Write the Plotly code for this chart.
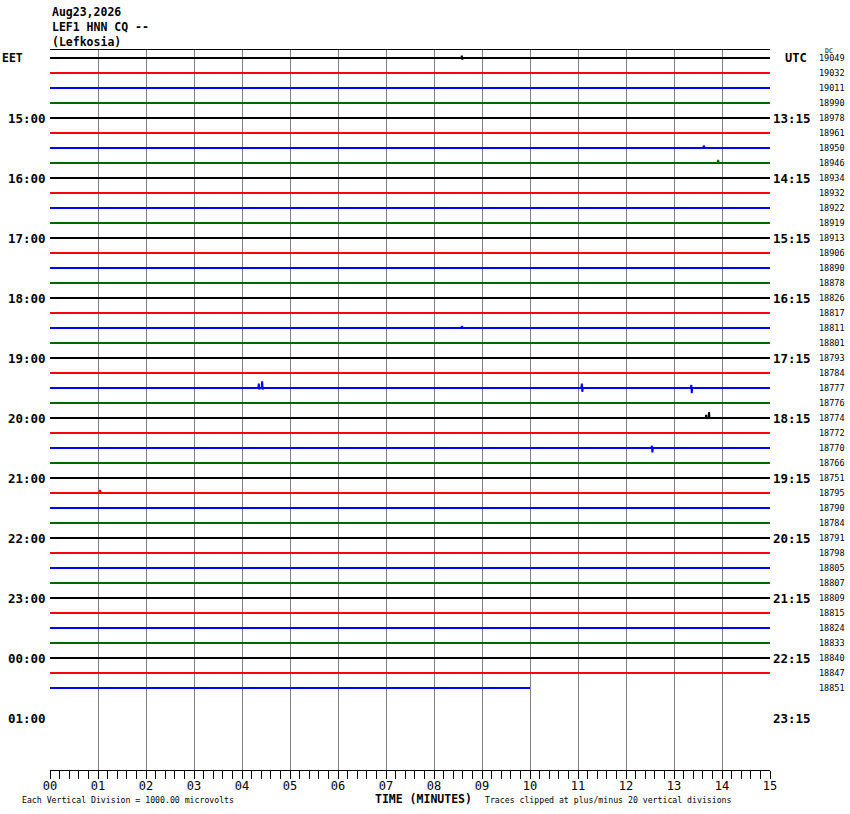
import plotly.graph_objects as go

# ---------------- data ----------------
title_lines = ["Aug23,2026", "LEF1 HNN CQ --", "(Lefkosia)"]
trace_colors = ["black", "red", "blue", "#006600"]
dc_offsets = [19049, 19032, 19011, 18990, 18978, 18961, 18950, 18946,
              18934, 18932, 18922, 18919, 18913, 18906, 18890, 18878,
              18826, 18817, 18811, 18801, 18793, 18784, 18777, 18776,
              18774, 18772, 18770, 18766, 18751, 18795, 18790, 18784,
              18791, 18798, 18805, 18807, 18809, 18815, 18824, 18833,
              18840, 18847, 18851]
row_end_minutes = [15] * 42 + [10]
left_hours = ["15:00", "16:00", "17:00", "18:00", "19:00", "20:00",
              "21:00", "22:00", "23:00", "00:00", "01:00"]
right_hours = ["13:15", "14:15", "15:15", "16:15", "17:15", "18:15",
               "19:15", "20:15", "21:15", "22:15", "23:15"]
minute_labels = ["00", "01", "02", "03", "04", "05", "06", "07",
                 "08", "09", "10", "11", "12", "13", "14", "15"]
# events: (row, minute, amplitude up, amplitude down) in vertical divisions
events = [
    (0, 8.58, 0.15, 0.1),
    (6, 13.62, 0.15, 0.0),
    (7, 13.92, 0.2, 0.05),
    (18, 8.58, 0.12, 0.0),
    (24, 13.67, 0.2, 0.05),
    (24, 13.73, 0.4, 0.05),
    (22, 4.35, 0.3, 0.1),
    (22, 4.42, 0.45, 0.1),
    (22, 11.08, 0.3, 0.25),
    (22, 13.36, 0.2, 0.35),
    (26, 12.54, 0.15, 0.3),
    (29, 1.04, 0.2, 0.0),
]

n_rows = len(dc_offsets)
fig = go.Figure()

for r in range(n_rows):
    xs = [0.0]
    ys = [r]
    evs = sorted([e for e in events if e[0] == r], key=lambda e: e[1])
    for _, m, up, dn in evs:
        xs += [m - 0.01, m, m + 0.01, m + 0.02]
        ys += [r, r - up, r + dn, r]
    xs.append(row_end_minutes[r])
    ys.append(r)
    fig.add_trace(go.Scatter(x=xs, y=ys, mode="lines",
                             line=dict(color=trace_colors[r % 4], width=2),
                             hoverinfo="skip", showlegend=False))

font_b = "DejaVu Sans Mono"
ann = []
for i, t in enumerate(title_lines):
    ann.append(dict(text="<b>%s</b>" % t, xref="paper", yref="paper", x=0, y=1,
                    xanchor="left", yanchor="middle", yshift=38 - 15 * i,
                    showarrow=False, font=dict(family=font_b, size=11.5, color="black")))
ann.append(dict(text="<b>EET</b>", xref="paper", yref="y", x=0, y=0, xanchor="left",
                xshift=-50, showarrow=False, font=dict(family=font_b, size=11.5, color="black")))
ann.append(dict(text="<b>UTC</b>", xref="paper", yref="y", x=1, y=0, xanchor="left",
                xshift=13, showarrow=False, font=dict(family=font_b, size=12, color="black")))
for i, lab in enumerate(left_hours):
    ann.append(dict(text="<b>%s</b>" % lab, xref="paper", yref="y", x=0, y=4 * (i + 1),
                    xanchor="right", xshift=-2, showarrow=False,
                    font=dict(family=font_b, size=12.5, color="black")))
for i, lab in enumerate(right_hours):
    ann.append(dict(text="<b>%s</b>" % lab, xref="paper", yref="y", x=1, y=4 * (i + 1),
                    xanchor="left", xshift=1, showarrow=False,
                    font=dict(family=font_b, size=12.5, color="black")))
for r, v in enumerate(dc_offsets):
    ann.append(dict(text=str(v), xref="paper", yref="y", x=1, y=r,
                    xanchor="left", xshift=47, showarrow=False,
                    font=dict(family=font_b, size=8.5, color="black")))
ann.append(dict(text="DC", xref="paper", yref="y", x=1, y=-0.45,
                xanchor="left", xshift=53, showarrow=False,
                font=dict(family=font_b, size=6.5, color="black")))
ann.append(dict(text="<b>TIME (MINUTES)</b>", xref="paper", yref="paper", x=0.5, y=0,
                xanchor="center", yanchor="middle", yshift=-29, xshift=13, showarrow=False,
                font=dict(family=font_b, size=11.5, color="black")))
ann.append(dict(text="Each Vertical Division = 1000.00 microvolts", xref="paper", yref="paper",
                x=0, y=0, xanchor="left", yanchor="middle", yshift=-30, xshift=-30, showarrow=False,
                font=dict(family=font_b, size=8.2, color="black")))
ann.append(dict(text="Traces clipped at plus/minus 20 vertical divisions", xref="paper", yref="paper",
                x=0, y=0, xanchor="left", yanchor="middle", yshift=-30, xshift=433, showarrow=False,
                font=dict(family=font_b, size=8.2, color="black")))

fig.update_layout(
    width=850, height=814,
    margin=dict(l=50, r=80, t=50, b=44),
    paper_bgcolor="white", plot_bgcolor="white",
    annotations=ann,
    xaxis=dict(range=[0, 15], tickvals=list(range(16)), ticktext=minute_labels,
               showgrid=True, gridcolor="#808080", gridwidth=1,
               showline=True, linecolor="black", linewidth=1, mirror=True,
               ticks="outside", ticklen=8, tickcolor="black", tickwidth=1,
               ticklabelstandoff=-3,
               minor=dict(dtick=0.2, ticks="outside", ticklen=8, tickcolor="black",
                          showgrid=False),
               tickfont=dict(family=font_b, size=12, color="black"),
               zeroline=False, fixedrange=True),
    yaxis=dict(range=[47.467, -0.533], showgrid=False, showticklabels=False,
               zeroline=False, showline=False, ticks="", fixedrange=True),
)
fig.update_xaxes(tickprefix="<b>", ticksuffix="</b>")

fig.write_html("out.html", config={"displayModeBar": False},
               post_script="document.body.style.margin='0';document.body.style.overflow='hidden';")
